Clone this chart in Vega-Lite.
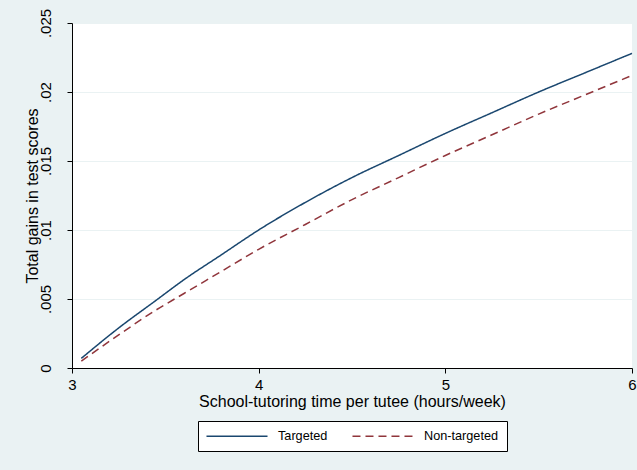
{
  "$schema": "https://vega.github.io/schema/vega-lite/v6.json",
  "width": 560,
  "height": 345,
  "autosize": {"type": "none"},
  "padding": {"left": 72, "top": 23, "right": 5, "bottom": 102},
  "background": "#EAF2F3",
  "title": {
    "text": "(c) Impact on total gains in test scores of tutoring time",
    "font": "Liberation Serif",
    "fontSize": 16,
    "fontWeight": "normal",
    "color": "black",
    "anchor": "middle",
    "baseline": "alphabetic",
    "offset": 3
  },
  "config": {
    "view": {"fill": "white", "stroke": null},
    "font": "Liberation Sans"
  },
  "data": {
    "values": [
      {"time": 3.05, "gain": 0.0007, "group": "Targeted"},
      {"time": 3.25, "gain": 0.0029, "group": "Targeted"},
      {"time": 3.45, "gain": 0.0049, "group": "Targeted"},
      {"time": 3.6, "gain": 0.0064, "group": "Targeted"},
      {"time": 3.8, "gain": 0.0082, "group": "Targeted"},
      {"time": 4.0, "gain": 0.0100, "group": "Targeted"},
      {"time": 4.25, "gain": 0.0120, "group": "Targeted"},
      {"time": 4.5, "gain": 0.0138, "group": "Targeted"},
      {"time": 4.75, "gain": 0.0154, "group": "Targeted"},
      {"time": 5.0, "gain": 0.0170, "group": "Targeted"},
      {"time": 5.25, "gain": 0.0185, "group": "Targeted"},
      {"time": 5.5, "gain": 0.0200, "group": "Targeted"},
      {"time": 5.75, "gain": 0.0214, "group": "Targeted"},
      {"time": 6.0, "gain": 0.0228, "group": "Targeted"},
      {"time": 3.05, "gain": 0.0005, "group": "Non-targeted"},
      {"time": 3.25, "gain": 0.0024, "group": "Non-targeted"},
      {"time": 3.45, "gain": 0.0042, "group": "Non-targeted"},
      {"time": 3.6, "gain": 0.0054, "group": "Non-targeted"},
      {"time": 3.8, "gain": 0.0070, "group": "Non-targeted"},
      {"time": 4.0, "gain": 0.0086, "group": "Non-targeted"},
      {"time": 4.25, "gain": 0.0104, "group": "Non-targeted"},
      {"time": 4.5, "gain": 0.0122, "group": "Non-targeted"},
      {"time": 4.75, "gain": 0.0138, "group": "Non-targeted"},
      {"time": 5.0, "gain": 0.0154, "group": "Non-targeted"},
      {"time": 5.25, "gain": 0.0169, "group": "Non-targeted"},
      {"time": 5.5, "gain": 0.0184, "group": "Non-targeted"},
      {"time": 5.75, "gain": 0.0198, "group": "Non-targeted"},
      {"time": 6.0, "gain": 0.0212, "group": "Non-targeted"}
    ]
  },
  "mark": {"type": "line", "interpolate": "monotone", "strokeWidth": 1.5},
  "encoding": {
    "x": {
      "field": "time",
      "type": "quantitative",
      "scale": {"domain": [3, 6], "nice": false, "zero": false},
      "axis": {
        "values": [3, 4, 5, 6],
        "format": "d",
        "grid": false,
        "domainColor": "black",
        "tickColor": "black",
        "tickSize": 5,
        "labelFontSize": 15,
        "labelColor": "black",
        "labelPadding": 4,
        "labelFlush": false,
        "title": "School-tutoring time per tutee (hours/week)",
        "titleFontSize": 16,
        "titleFontWeight": "normal",
        "titleColor": "black",
        "titlePadding": 1
      }
    },
    "y": {
      "field": "gain",
      "type": "quantitative",
      "scale": {"domain": [0, 0.025], "nice": false},
      "axis": {
        "values": [0, 0.005, 0.01, 0.015, 0.02, 0.025],
        "labelExpr": "datum.value == 0 ? '0' : replace(format(datum.value, '.3~f'), '0.', '.')",
        "labelAngle": -90,
        "labelAlign": "center",
        "labelBaseline": "alphabetic",
        "labelFontSize": 15,
        "labelColor": "black",
        "labelPadding": 17,
        "grid": true,
        "gridColor": "#EAF2F3",
        "gridWidth": 1,
        "domainColor": "black",
        "tickColor": "black",
        "tickSize": 5,
        "title": "Total gains in test scores",
        "titleFontSize": 16,
        "titleFontWeight": "normal",
        "titleColor": "black",
        "titlePadding": -2
      }
    },
    "color": {
      "field": "group",
      "type": "nominal",
      "scale": {"domain": ["Targeted", "Non-targeted"], "range": ["#1a476f", "#90353b"]},
      "legend": {
        "title": null,
        "orient": "none",
        "legendX": 126,
        "legendY": 398,
        "direction": "horizontal",
        "symbolType": "M-5,0H5",
        "symbolSize": 149,
        "symbolStrokeWidth": 1.5,
        "symbolOffset": 24,
        "labelFontSize": 12.7,
        "labelColor": "black",
        "labelOffset": 34,
        "columnPadding": 21,
        "padding": 8,
        "strokeColor": "black",
        "fillColor": "white",
        "cornerRadius": 0
      }
    },
    "strokeDash": {
      "field": "group",
      "type": "nominal",
      "scale": {"domain": ["Targeted", "Non-targeted"], "range": [[1, 0], [8, 5]]}
    }
  }
}
